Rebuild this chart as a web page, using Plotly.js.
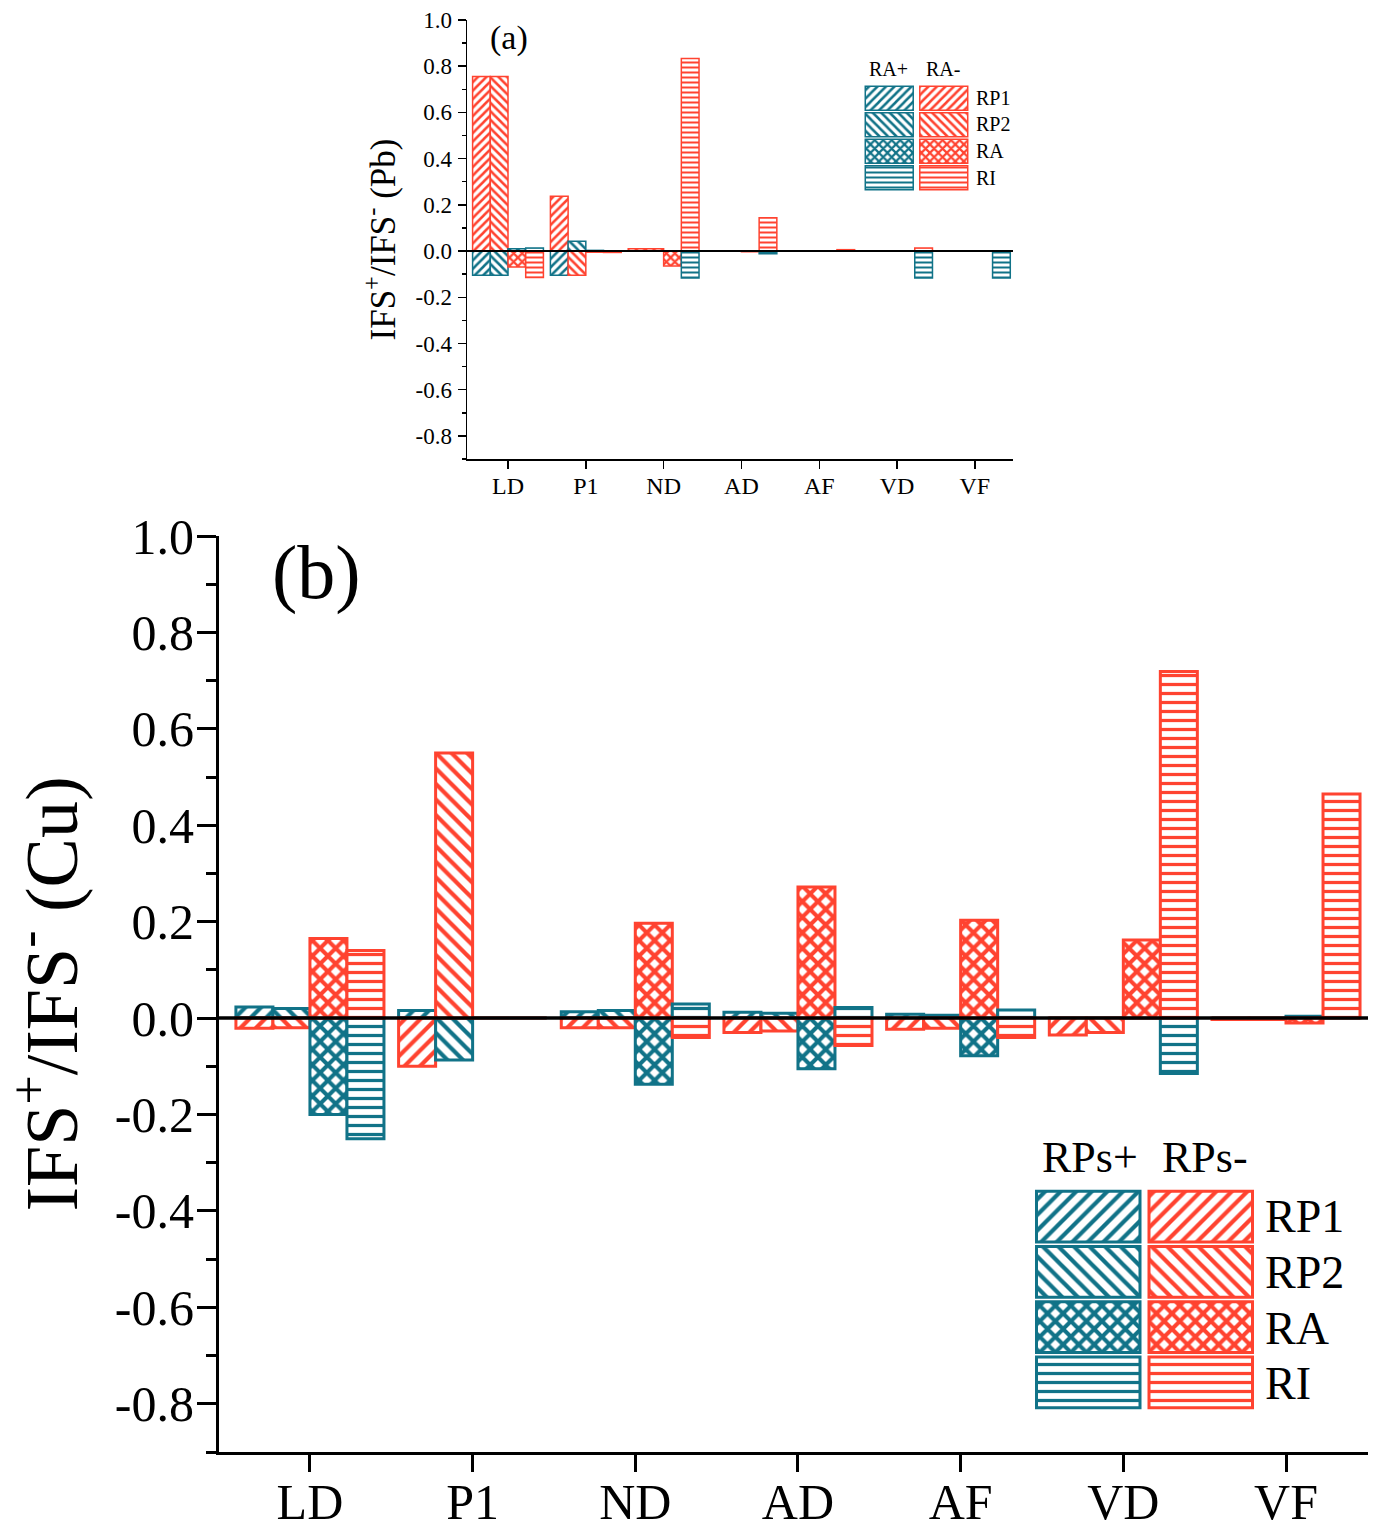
<!DOCTYPE html>
<html>
<head>
<meta charset="utf-8">
<script src="https://cdn.plot.ly/plotly-3.0.1.min.js"></script>
<style>html,body{margin:0;padding:0;background:#fff;}#chart{width:1376px;height:1532px;}</style>
</head>
<body>
<div id="chart"></div>
<script>
// ---------- data ----------
const categories = ['LD', 'P1', 'ND', 'AD', 'AF', 'VD', 'VF'];
const seriesNames = ['RP1', 'RP2', 'RA', 'RI'];
const yTickVals = [-0.8, -0.6, -0.4, -0.2, 0.0, 0.2, 0.4, 0.6, 0.8, 1.0];
const yTickText = ['-0.8', '-0.6', '-0.4', '-0.2', '0.0', '0.2', '0.4', '0.6', '0.8', '1.0'];

// Panel (a) Pb : RA+ (teal) and RA- (red)
const pbPlusRP1 = [-0.105, -0.105, 0, 0, 0, 0, 0];
const pbPlusRP2 = [-0.105, 0.042, 0, 0, 0, 0, 0];
const pbPlusRA  = [0.010, 0.003, 0, 0, 0, 0, 0];
const pbPlusRI  = [0.013, 0, -0.117, -0.012, 0, -0.117, -0.117];
const pbMinusRP1 = [0.756, 0.237, 0.010, 0, 0, 0, 0];
const pbMinusRP2 = [0.756, -0.105, 0.010, 0, 0, 0, 0];
const pbMinusRA  = [-0.069, -0.005, -0.065, -0.003, 0, 0, 0];
const pbMinusRI  = [-0.115, -0.006, 0.833, 0.144, 0.006, 0.013, 0];

// Panel (b) Cu : RPs+ (teal) and RPs- (red)
const cuPlusRP1 = [0.023, 0.016, 0.013, 0.012, 0.008, 0, 0];
const cuPlusRP2 = [0.020, -0.087, 0.016, 0.010, 0.006, 0, 0];
const cuPlusRA  = [-0.200, 0, -0.137, -0.105, -0.078, 0, 0.004];
const cuPlusRI  = [-0.250, 0, 0.029, 0.022, 0.017, -0.115, 0];
const cuMinusRP1 = [-0.021, -0.100, -0.020, -0.030, -0.023, -0.035, -0.003];
const cuMinusRP2 = [-0.020, 0.550, -0.020, -0.027, -0.021, -0.030, -0.003];
const cuMinusRA  = [0.165, 0, 0.197, 0.272, 0.203, 0.162, -0.010];
const cuMinusRI  = [0.140, 0, -0.040, -0.057, -0.040, 0.719, 0.465];

// ---------- styling ----------
const TEAL = '#117388';
const RED = '#FF4330';
const FONT = 'Liberation Serif, Times New Roman, serif';
const W = 1376, H = 1532;
const px = x => x / W;
const py = y => 1 - y / H;
const patternShapes = ['/', '\\', 'x', '-'];

const pbPlus = [pbPlusRP1, pbPlusRP2, pbPlusRA, pbPlusRI];
const pbMinus = [pbMinusRP1, pbMinusRP2, pbMinusRA, pbMinusRI];
const cuPlus = [cuPlusRP1, cuPlusRP2, cuPlusRA, cuPlusRI];
const cuMinus = [cuMinusRP1, cuMinusRP2, cuMinusRA, cuMinusRI];

const barW = 0.2275;
function pattern(k, color, big) {
  const sz = big ? [11, 11, 11, 9] : [6, 6, 6, 5];
  const sol = big ? [0.38, 0.38, 0.6, 0.36] : [0.42, 0.42, 0.6, 0.4];
  return {shape: patternShapes[k], size: sz[k], solidity: sol[k], fgcolor: color, bgcolor: 'white', fgopacity: 1, fillmode: 'overlay'};
}

const traces = [];
function addPanel(plusArr, minusArr, xa, ya, big) {
  for (let k = 0; k < 4; k++) {
    [[plusArr[k], TEAL], [minusArr[k], RED]].forEach(([vals, col]) => {
      traces.push({
        type: 'bar', x: categories, y: vals, xaxis: xa, yaxis: ya,
        width: barW, offset: -2 * barW + k * barW,
        marker: {color: 'white', line: {color: col, width: big ? 3 : 1.5}, pattern: pattern(k, col, big)},
        showlegend: false, hoverinfo: 'x+y', cliponaxis: false
      });
    });
  }
}
addPanel(pbPlus, pbMinus, 'x', 'y', false);
addPanel(cuPlus, cuMinus, 'x2', 'y2', true);

// custom legends (two columns of swatches)
function addLegend(xa, ya, big, bw, bh) {
  for (let k = 0; k < 4; k++) {
    [[0, TEAL], [1, RED]].forEach(([col, color]) => {
      traces.push({
        type: 'bar', x: [col], y: [bh], base: [3 - k + (1 - bh) / 2], xaxis: xa, yaxis: ya,
        width: bw,
        marker: {color: 'white', line: {color: color, width: big ? 3 : 1.5}, pattern: pattern(k, color, big)},
        showlegend: false, hoverinfo: 'skip'
      });
    });
  }
}
addLegend('x3', 'y3', false, 0.88, 0.9);
addLegend('x4', 'y4', true, 0.92, 0.92);

const hiddenAx = {showgrid: false, zeroline: false, showticklabels: false, showline: false, ticks: '', fixedrange: true};

function yAxis(domain, big) {
  return {
    domain: domain, range: [-0.9, 1.0], tickvals: yTickVals, ticktext: yTickText,
    ticks: 'outside', ticklen: big ? 19 : 8, tickwidth: big ? 3 : 1.5, tickcolor: 'black',
    minor: {dtick: 0.1, tick0: 0, ticks: 'outside', ticklen: big ? 10 : 4, tickwidth: big ? 3 : 1.5, tickcolor: 'black'},
    showline: true, linewidth: big ? 3 : 1.5, linecolor: 'black',
    showgrid: false, zeroline: false,
    tickfont: {family: FONT, size: big ? 50 : 23, color: 'black'},
    ticklabelstandoff: big ? -7 : 1
  };
}
function xAxis(domain, range, anchor, big) {
  return {
    domain: domain, range: range, type: 'category', anchor: anchor,
    ticks: 'outside', ticklen: big ? 17 : 8, tickwidth: big ? 3 : 1.5, tickcolor: 'black',
    showline: true, linewidth: big ? 3 : 1.5, linecolor: 'black',
    showgrid: false, zeroline: false,
    tickfont: {family: FONT, size: big ? 50 : 24, color: 'black'},
    ticklabelstandoff: big ? -13 : -3
  };
}

const ya = yAxis([py(459), py(20)], false);
ya.anchor = 'x';
ya.title = {text: 'IFS<sup>+</sup>/IFS<sup>-</sup> (Pb)', font: {family: FONT, size: 35, color: 'black'}, standoff: 9};
const yb = yAxis([py(1452), py(536)], true);
yb.anchor = 'x2';
yb.title = {text: 'IFS<sup>+</sup>/IFS<sup>-</sup> (Cu)', font: {family: FONT, size: 74, color: 'black'}, standoff: 24};

function ann(text, x, y, size, xanchor) {
  return {text: text, xref: 'paper', yref: 'paper', x: px(x), y: py(y), xanchor: xanchor || 'center', yanchor: 'middle',
    showarrow: false, font: {family: FONT, size: size, color: 'black'}};
}

const layout = {
  width: W, height: H,
  margin: {l: 0, r: 0, t: 0, b: 0},
  paper_bgcolor: 'white', plot_bgcolor: 'rgba(0,0,0,0)',
  barmode: 'overlay',
  showlegend: false,
  xaxis: xAxis([px(467), px(1013)], [-0.527, 6.49], 'y', false),
  yaxis: ya,
  xaxis2: xAxis([px(219), px(1368)], [-0.559, 6.504], 'y2', true),
  yaxis2: yb,
  xaxis3: Object.assign({domain: [px(862), px(971)], range: [-0.5, 1.5], anchor: 'y3'}, hiddenAx),
  yaxis3: Object.assign({domain: [py(191), py(85)], range: [0, 4], anchor: 'x3'}, hiddenAx),
  xaxis4: Object.assign({domain: [px(1032), px(1257)], range: [-0.5, 1.5], anchor: 'y4'}, hiddenAx),
  yaxis4: Object.assign({domain: [py(1410), py(1189)], range: [0, 4], anchor: 'x4'}, hiddenAx),
  shapes: [
    {type: 'line', xref: 'x domain', yref: 'y', x0: 0, x1: 1, y0: 0, y1: 0, line: {color: 'black', width: 2}, layer: 'above'},
    {type: 'line', xref: 'x2 domain', yref: 'y2', x0: 0, x1: 1, y0: 0, y1: 0, line: {color: 'black', width: 3.5}, layer: 'above'}
  ],
  annotations: [
    ann('(a)', 509, 38, 34),
    ann('(b)', 316, 572, 76),
    ann('RA+', 888, 69, 20),
    ann('RA-', 943, 69, 20),
    ann('RPs+', 1090, 1157, 44),
    ann('RPs-', 1205, 1157, 44)
  ]
};
const rowsA = [98, 124, 151, 178];
const rowsB = [1216, 1272, 1328, 1383];
seriesNames.forEach((n, i) => {
  layout.annotations.push(ann(n, 974, rowsA[i], 20, 'left'));
  layout.annotations.push(ann(n, 1263, rowsB[i], 46, 'left'));
});

Plotly.newPlot('chart', traces, layout, {displayModeBar: false, staticPlot: true});
</script>
</body>
</html>
